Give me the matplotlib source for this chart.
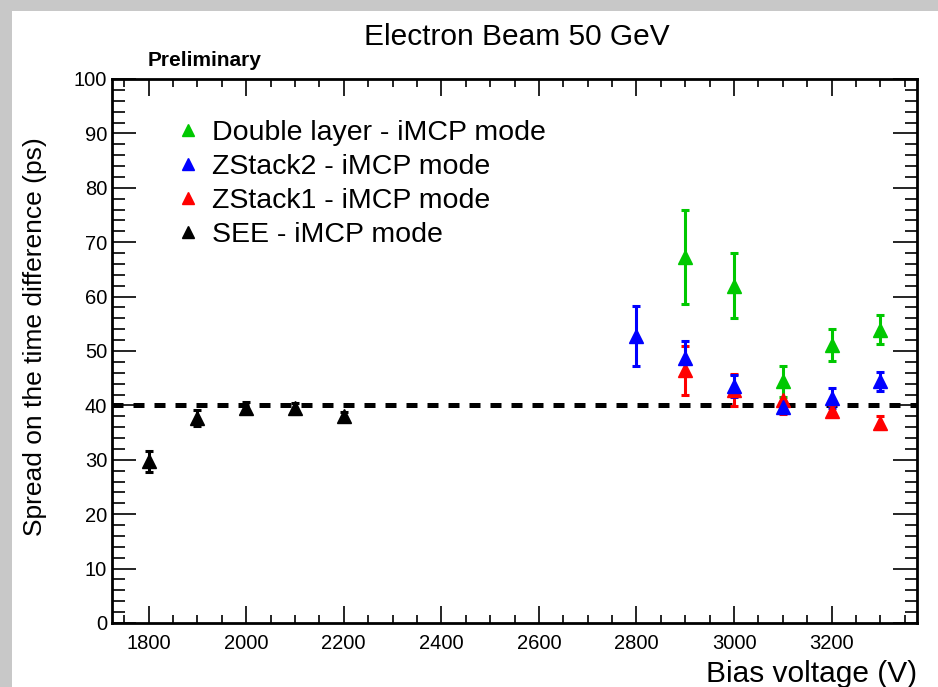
import matplotlib
matplotlib.use("Agg")
import matplotlib.pyplot as plt
from matplotlib.ticker import MultipleLocator
from matplotlib.patches import Rectangle
from matplotlib.lines import Line2D

plt.rcParams['font.family'] = ['Liberation Sans', 'DejaVu Sans']

# SEE - iMCP mode
see_v = [1800, 1900, 2000, 2100, 2200]
see_y = [29.7, 37.7, 39.6, 39.5, 38.0]
see_e = [2.0, 1.5, 1.0, 1.0, 0.8]

# ZStack1 - iMCP mode
zs1_v = [2900, 3000, 3100, 3200, 3300]
zs1_y = [46.5, 42.8, 41.0, 39.0, 36.8]
zs1_e = [4.5, 3.0, 2.5, 1.0, 1.2]

# ZStack2 - iMCP mode
zs2_v = [2800, 2900, 3000, 3100, 3200, 3300]
zs2_y = [52.8, 48.8, 43.5, 39.7, 41.4, 44.4]
zs2_e = [5.5, 3.0, 2.0, 1.0, 1.8, 1.7]

# Double layer - iMCP mode
dl_v = [2900, 3000, 3100, 3200, 3300]
dl_y = [67.3, 62.0, 44.4, 51.1, 53.9]
dl_e = [8.7, 6.0, 2.8, 3.0, 2.7]

ref_level = 40

fig = plt.figure(figsize=(9.38, 6.87), dpi=100)
fig.patch.set_facecolor('#c8c8c8')
fig.patches.append(Rectangle((12/938, 0), 1, 1 - 11/687, transform=fig.transFigure,
                             facecolor='white', edgecolor='none', zorder=-10))

ax = fig.add_axes([112/938, 64/687, 805/938, 544/687])
ax.set_zorder(1)
ax.set_xlim(1725, 3375)
ax.set_ylim(0, 100)

# reference line at 40 ps
ax.axhline(ref_level, color='black', lw=3.6, ls=(0, (2.2, 2.0)), zorder=1)

series = [
    (see_v, see_y, see_e, 'black', 'SEE - iMCP mode'),
    (zs1_v, zs1_y, zs1_e, '#ff0000', 'ZStack1 - iMCP mode'),
    (zs2_v, zs2_y, zs2_e, '#0000ff', 'ZStack2 - iMCP mode'),
    (dl_v, dl_y, dl_e, '#00c800', 'Double layer - iMCP mode'),
]
for v, y, e, c, lab in series:
    ax.errorbar(v, y, yerr=e, fmt='^', color=c, ms=10, elinewidth=2.2, capsize=3,
                capthick=2.2, zorder=3)

# legend (top entry first)
handles = [Line2D([], [], marker='^', ls='none', color=s[3], ms=8) for s in series[::-1]]
labels = [s[4] for s in series[::-1]]
ax.legend(handles, labels, loc='upper left', bbox_to_anchor=(0.0625, 0.945),
          frameon=False, fontsize=20.5, handletextpad=0.35, labelspacing=0.28,
          handlelength=1.0, borderaxespad=0)

ax.xaxis.set_major_locator(MultipleLocator(200))
ax.xaxis.set_minor_locator(MultipleLocator(50))
ax.yaxis.set_major_locator(MultipleLocator(10))
ax.yaxis.set_minor_locator(MultipleLocator(2))
ax.tick_params(axis='both', which='both', direction='in', top=True, right=True,
               labelsize=14.5, width=1.2)
ax.tick_params(axis='y', which='major', length=17)
ax.tick_params(axis='y', which='minor', length=9)
ax.tick_params(axis='x', which='major', length=12)
ax.tick_params(axis='x', which='minor', length=6)
ax.tick_params(axis='x', pad=8)
for sp in ax.spines.values():
    sp.set_linewidth(2)

ax.set_xlabel('Bias voltage (V)', fontsize=21.5, ha='right', va='center')
ax.xaxis.set_label_coords(1.0, -0.094)
ax.set_ylabel('Spread on the time difference (ps)', fontsize=19, va='bottom')
ax.yaxis.set_label_coords(-0.081, 0.526)

fig.text(517/938, 1 - 37/687, 'Electron Beam 50 GeV', fontsize=21.5, ha='center', va='center')
fig.text(148/938, 1 - 60/687, 'Preliminary', fontsize=15, fontweight='bold', ha='left', va='center')

fig.savefig('out.png', dpi=100, facecolor=fig.get_facecolor())
